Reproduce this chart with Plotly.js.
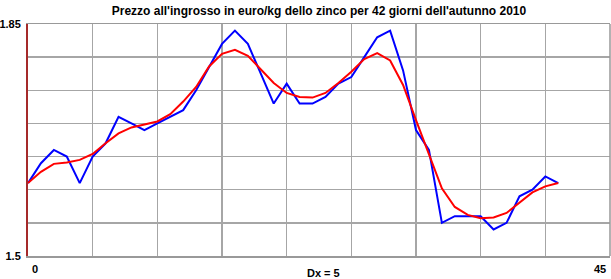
<!DOCTYPE html>
<html>
<head>
<meta charset="utf-8">
<script src="https://cdn.plot.ly/plotly-3.0.1.min.js"></script>
<style>html,body{margin:0;padding:0;background:#fff;}#chart{width:611px;height:279px;}</style>
</head>
<body>
<div id="chart"></div>
<script>
const days = [0,1,2,3,4,5,6,7,8,9,10,11,12,13,14,15,16,17,18,19,20,21,22,23,24,25,26,27,28,29,30,31,32,33,34,35,36,37,38,39,40,41];
const price = [1.61,1.64,1.66,1.65,1.61,1.65,1.67,1.71,1.70,1.69,1.70,1.71,1.72,1.75,1.785,1.82,1.84,1.82,1.775,1.73,1.76,1.73,1.73,1.74,1.76,1.77,1.80,1.83,1.84,1.78,1.69,1.66,1.55,1.56,1.56,1.56,1.54,1.55,1.59,1.60,1.62,1.61];
const smooth = [1.61,1.627,1.639,1.641,1.645,1.654,1.670,1.685,1.694,1.698,1.703,1.714,1.733,1.755,1.786,1.805,1.811,1.802,1.781,1.761,1.746,1.740,1.739,1.746,1.761,1.778,1.797,1.806,1.795,1.758,1.705,1.655,1.602,1.574,1.562,1.557,1.558,1.565,1.580,1.596,1.605,1.610];
const xTicks = [0,5,10,15,20,25,30,35,40,45];
const yTicks = [1.5,1.55,1.6,1.65,1.7,1.75,1.8,1.85];
const yTickText = ["1.5","","","","","","","1.85"];
const titleText = "Prezzo all'ingrosso in euro/kg dello zinco per 42 giorni dell'autunno 2010";
const xLabel = "Dx = 5";

const font = {family: "Liberation Sans, Arial, sans-serif", size: 12, color: "#000", weight: "bold"};

const traces = [
  {x: days, y: price, type: "scatter", mode: "lines", line: {color: "#0000ff", width: 2}, hoverinfo: "skip"},
  {x: days, y: smooth, type: "scatter", mode: "lines", line: {color: "#ff0000", width: 2}, hoverinfo: "skip"}
];

const layout = {
  width: 611, height: 279,
  margin: {l: 28, r: 1, t: 24, b: 23, pad: 0},
  paper_bgcolor: "#fff", plot_bgcolor: "#fff",
  showlegend: false,
  font: font,
  title: {text: titleText, font: {family: font.family, size: 12, color: "#000", weight: "bold"},
          x: 0.5, xref: "paper", xanchor: "center", y: 1 - 11/279, yref: "container", yanchor: "middle"},
  xaxis: {range: [0, 45], tickvals: xTicks, showticklabels: false, ticks: "",
          showgrid: true, gridcolor: "#a6a6a6", gridwidth: 1.5, zeroline: false,
          showline: true, linecolor: "#999", linewidth: 1.5, mirror: true, fixedrange: true},
  yaxis: {range: [1.5, 1.85], tickvals: yTicks, ticktext: yTickText, ticks: "",
          ticklabelstandoff: 3,
          tickfont: {family: font.family, size: 11, color: "#000", weight: "bold"},
          showgrid: true, gridcolor: "#a6a6a6", gridwidth: 1.5, zeroline: false,
          showline: true, linecolor: "#a52a2a", linewidth: 2, fixedrange: true},
  shapes: [
    {type: "line", xref: "paper", yref: "paper", x0: 1, x1: 1, y0: 0, y1: 1, line: {color: "#999", width: 1.5}}
  ],
  annotations: [
    {text: "0", xref: "x", x: 0, yref: "paper", y: 0, xanchor: "left", yanchor: "top", xshift: 2, yshift: -5, showarrow: false,
     font: {family: font.family, size: 11, color: "#000", weight: "bold"}},
    {text: "45", xref: "x", x: 45, yref: "paper", y: 0, xanchor: "right", yanchor: "top", xshift: -2, yshift: -5, showarrow: false,
     font: {family: font.family, size: 11, color: "#000", weight: "bold"}},
    {text: xLabel, xref: "paper", x: 0.5, yref: "paper", y: 0, xanchor: "center", yanchor: "top", xshift: 4, yshift: -9, showarrow: false,
     font: {family: font.family, size: 11, color: "#000", weight: "bold"}}
  ]
};

Plotly.newPlot("chart", traces, layout, {displayModeBar: false, staticPlot: true});
</script>
</body>
</html>
